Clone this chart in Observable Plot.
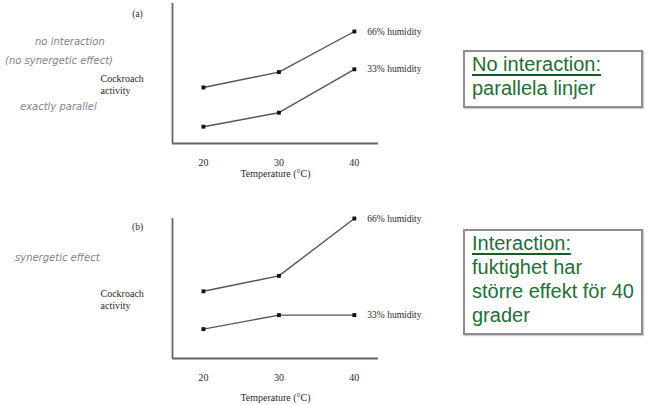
<!DOCTYPE html>
<html><head><meta charset="utf-8">
<script src="https://cdn.jsdelivr.net/npm/d3@7"></script>
<script src="https://cdn.jsdelivr.net/npm/@observablehq/plot@0.6"></script>
<style>
body{margin:0;background:#fff;}
#wrap{position:relative;width:648px;height:405px;overflow:hidden;background:#fff;}
.plot{position:absolute;left:0;}
.note{position:absolute;font-family:"DejaVu Sans",sans-serif;font-style:italic;color:#80838f;font-size:10px;white-space:nowrap;line-height:12px;}
.box{position:absolute;left:463px;width:180px;border:2px solid #8e8e8e;background:#fff;font-family:"Liberation Sans",Arial,sans-serif;font-size:20px;line-height:24px;color:#246e38;padding-left:7px;box-sizing:border-box;box-shadow:1px 1px 1px #ccc;}
.box u{text-decoration-color:#1a5a2a;text-decoration-thickness:2px;text-underline-offset:3px;}
</style></head>
<body><div id="wrap"></div>
<script>
const temps = [20, 30, 40];
const tempTicks = [20, 30, 40];
const xDomain = [15.9, 43.2];
const yDomain = [0, 10];
const seriesNames = ["66% humidity", "33% humidity"];
const a66 = [4.0, 5.1, 8.0];
const a33 = [1.2, 2.2, 5.3];
const b66 = [4.8, 5.9, 10.0];
const b33 = [2.1, 3.1, 3.1];
const panelTags = ["(a)", "(b)"];
const xLabel = "Temperature (°C)";
const yLabel = "Cockroach\nactivity";
const notesA = ["no interaction", "(no synergetic effect)", "exactly parallel"];
const notesB = ["synergetic effect"];
const boxA = ["No interaction:", "parallela linjer"];
const boxB = ["Interaction:", "fuktighet har", "större effekt för 40", "grader"];

const wrap = document.getElementById("wrap");

function panel(tag, v66, v33, o) {
  const rows = [];
  temps.forEach((t, i) => rows.push({t, v: v66[i], s: seriesNames[0]}));
  temps.forEach((t, i) => rows.push({t, v: v33[i], s: seriesNames[1]}));
  const ends = rows.filter(d => d.t === temps[temps.length - 1]);
  const p = Plot.plot({
    width: 460, height: o.height,
    marginLeft: 172, marginRight: 82, marginTop: o.marginTop, marginBottom: 47,
    x: {domain: xDomain},
    y: {domain: yDomain, axis: null},
    style: {fontFamily: "Liberation Serif, serif", fontSize: "10px", color: "#2a2a2a", background: "transparent", overflow: "visible"},
    marks: [
      Plot.ruleY([yDomain[0]], {stroke: "#666", strokeWidth: 1.8}),
      Plot.ruleX([xDomain[0]], {stroke: "#666", strokeWidth: 1.8}),
      Plot.line(rows, {x: "t", y: "v", z: "s", stroke: "#555", strokeWidth: 1.4}),
      Plot.dot(rows, {x: "t", y: "v", symbol: "square", r: 2.2, fill: "#111", stroke: null}),
      Plot.text(ends, {x: "t", y: "v", text: "s", textAnchor: "start", dx: 13, fontSize: 9.5, fill: "#2a2a2a"}),
      Plot.axisX(tempTicks, {tickSize: 0, tickPadding: 15, fontSize: 10, label: xLabel, labelAnchor: "center", labelOffset: o.labelOffset, labelArrow: "none"}),
      Plot.text([yLabel], {frameAnchor: "left", text: d => d, textAnchor: "start", dx: -72, dy: 11, lineHeight: 1.15, fontSize: 10, fill: "#2a2a2a"}),
      Plot.text([tag], {frameAnchor: "top-left", text: d => d, textAnchor: "middle", dx: -35, dy: o.tagDy, fontSize: 9.5, fill: "#2a2a2a"})
    ]
  });
  p.classList.add("plot");
  p.style.top = o.top + "px";
  wrap.appendChild(p);
}

panel(panelTags[0], a66, a33, {top: 0, height: 190, marginTop: 3, labelOffset: 33, tagDy: 7});
panel(panelTags[1], b66, b33, {top: 190, height: 215, marginTop: 28, labelOffset: 42, tagDy: 5});

function note(text, left, top) {
  const d = document.createElement("div");
  d.className = "note"; d.textContent = text;
  d.style.left = left + "px"; d.style.top = top + "px";
  wrap.appendChild(d);
}
note(notesA[0], 35, 36);
note(notesA[1], 5, 55);
note(notesA[2], 20, 101);
note(notesB[0], 15, 252);

function box(lines, top, height) {
  const d = document.createElement("div");
  d.className = "box";
  d.style.top = top + "px"; d.style.height = height + "px";
  lines.forEach((l, i) => {
    const line = document.createElement("div");
    if (i === 0) { const u = document.createElement("u"); u.textContent = l; line.appendChild(u); }
    else line.textContent = l;
    d.appendChild(line);
  });
  wrap.appendChild(d);
}
box(boxA, 50, 58);
box(boxB, 229, 106);
</script>
</body></html>
